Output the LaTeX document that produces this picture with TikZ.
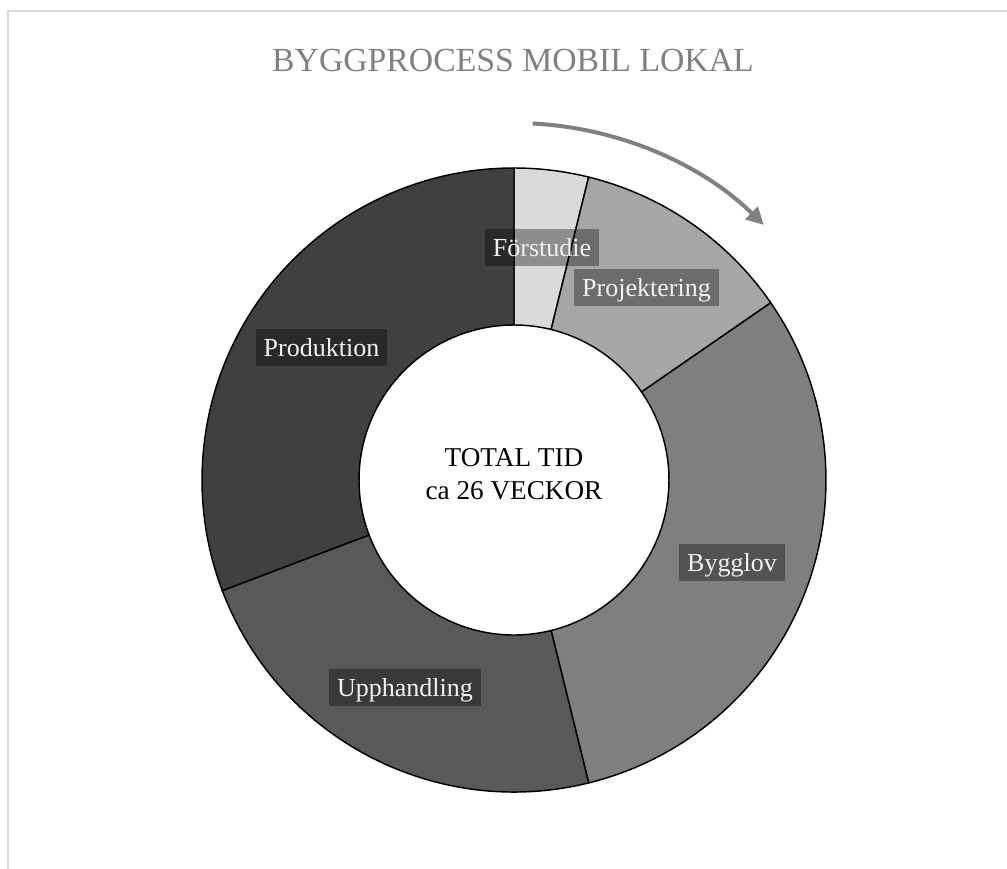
\documentclass[tikz,border=0pt]{standalone}
\usepackage{fontspec}
\setmainfont{Liberation Serif}
\usetikzlibrary{arrows.meta}
\definecolor{segA}{HTML}{D9D9D9}
\definecolor{segB}{HTML}{A6A6A6}
\definecolor{segC}{HTML}{7F7F7F}
\definecolor{segD}{HTML}{595959}
\definecolor{segE}{HTML}{404040}
\definecolor{framegray}{HTML}{D9D9D9}
\definecolor{titlegray}{HTML}{808080}
\definecolor{labeltxt}{HTML}{F2F2F2}
\begin{document}
\begin{tikzpicture}[x=0.75pt,y=0.75pt,
  seg/.style={draw=black,line width=1.1pt,line join=round},
  lbl/.style={fill=black,fill opacity=0.35,text opacity=1,text=labeltxt,
    font=\fontsize{19.5}{23}\selectfont,inner xsep=6pt,inner ysep=0pt,
    text height=21pt,text depth=6.75pt},
  flowarrow/.style={draw=titlegray,line width=3pt,-{Triangle[length=13pt,width=13pt]}},
  framestyle/.style={draw=framegray,line width=1.5pt}
]
\useasboundingbox (0,0) rectangle (1007,868);
\clip (0,0) rectangle (1007,868);
\fill[white] (0,0) rectangle (1007,868);
\draw[framestyle] (8,-20) -- (8,857) -- (1030,857);
\coordinate (c) at (514,388);
\foreach \a/\b/\col in {90/76.154/segA,76.154/34.615/segB,34.615/-76.154/segC,-76.154/-159.231/segD,-159.231/-270/segE}
  \draw[seg,fill=\col] ([shift={(\a:234pt)}]c) arc[start angle=\a,end angle=\b,radius=234pt]
    -- ([shift={(\b:116.25pt)}]c) arc[start angle=\b,end angle=\a,radius=116.25pt] -- cycle;
\node[anchor=base,text=titlegray,font=\fontsize{25.3}{30}\selectfont] (title) at (513,796) {BYGGPROCESS MOBIL LOKAL};
\node[align=center,font=\fontsize{20.4}{24.75}\selectfont] (total) at (514,393.5) {TOTAL TID\\ca 26 VECKOR};
\draw[flowarrow] ([shift={(87:267.75pt)}]c) arc[start angle=87,end angle=45.6,radius=267.75pt];
\node[lbl] (forstudie) at (542,620.5) {Förstudie};
\node[lbl] (projektering) at (646.5,580.5) {Projektering};
\node[lbl] (bygglov) at (732,305.5) {Bygglov};
\node[lbl] (upphandling) at (405,180.5) {Upphandling};
\node[lbl] (produktion) at (321.5,520.5) {Produktion};
\end{tikzpicture}
\end{document}
